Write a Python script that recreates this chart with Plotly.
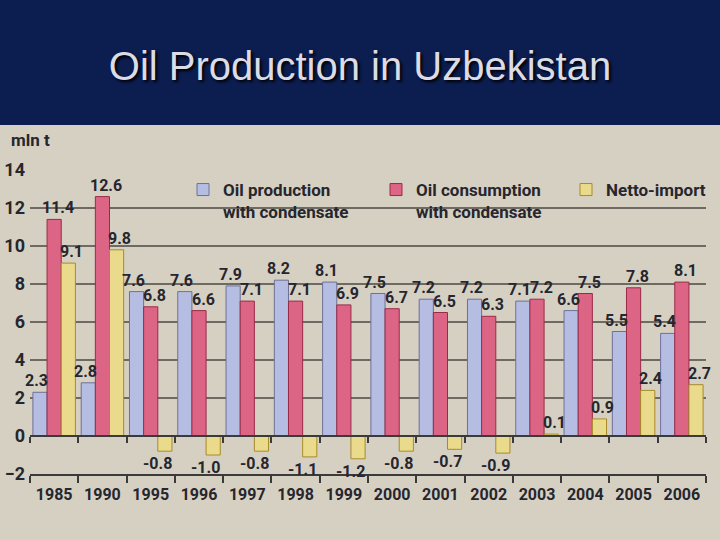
import plotly.graph_objects as go

years = ["1985", "1990", "1995", "1996", "1997", "1998", "1999",
         "2000", "2001", "2002", "2003", "2004", "2005", "2006"]
production = [2.3, 2.8, 7.6, 7.6, 7.9, 8.2, 8.1, 7.5, 7.2, 7.2, 7.1, 6.6, 5.5, 5.4]
consumption = [11.4, 12.6, 6.8, 6.6, 7.1, 7.1, 6.9, 6.7, 6.5, 6.3, 7.2, 7.5, 7.8, 8.1]
netto_import = [9.1, 9.8, -0.8, -1.0, -0.8, -1.1, -1.2, -0.8, -0.7, -0.9, 0.1, 0.9, 2.4, 2.7]

series_names = ["Oil production<br>with condensate",
                "Oil consumption<br>with condensate",
                "Netto-import"]
series_values = [production, consumption, netto_import]
fill_colors = ["#b6bde2", "#dc6585", "#eadb8c"]
line_colors = ["#6c7198", "#9a2a48", "#a88a2a"]
legend_ids = ["legend", "legend", "legend2"]

FONT = "Roboto, Liberation Sans, sans-serif"
TXT = "#26262e"
BG = "#d6d0c3"

# plot geometry (pixels)
L, R, T, B = 30, 14, 170, 66
W, H = 720, 540
plot_w = W - L - R
plot_h = H - T - B
bargap = 0.12
cat_w = plot_w / len(years)
bar_w = cat_w * (1 - bargap) / 3

fig = go.Figure()
for name, vals, fc, lc, lg in zip(series_names, series_values, fill_colors,
                                  line_colors, legend_ids):
    fig.add_trace(go.Bar(
        x=years, y=vals, name=name, legend=lg,
        marker=dict(color=fc, line=dict(color=lc, width=1)),
    ))

# helper trace for the zero-line axis
fig.add_trace(go.Scatter(x=[], y=[], xaxis="x2", showlegend=False, hoverinfo="skip"))

# value labels, positioned from the data values (category index on x)
label_shift = [-3, 4, 3]
annotations = []
for s, vals in enumerate(series_values):
    base = (s - 1) * bar_w
    for i, v in enumerate(vals):
        if v >= 0:
            annotations.append(dict(
                x=i, y=v, xref="x", yref="y", text=f"{v:.1f}", showarrow=False,
                xanchor="center", yanchor="bottom", xshift=base + label_shift[s], yshift=0,
                font=dict(family=FONT, size=16, color=TXT, weight="bold")))
        else:
            annotations.append(dict(
                x=i, y=v, xref="x", yref="y", text=f"{v:.1f}", showarrow=False,
                xanchor="right", yanchor="top", xshift=base + bar_w / 2 + 2, yshift=-1,
                font=dict(family=FONT, size=16, color=TXT, weight="bold")))

annotations.append(dict(text="mln t", xref="paper", yref="paper",
                        x=(9 - L) / plot_w, y=(H - B - 140) / plot_h, xanchor="left",
                        yanchor="middle", showarrow=False,
                        font=dict(family=FONT, size=17, color=TXT, weight="bold")))

legend_common = dict(orientation="h", yanchor="top",
                     bgcolor="rgba(0,0,0,0)", valign="top", traceorder="normal",
                     font=dict(family=FONT, size=17, color=TXT, weight="bold"))

ymin, ymax = -2, 14
fig.update_layout(
    width=W, height=H,
    margin=dict(l=L, r=R, t=T, b=B, autoexpand=False),
    paper_bgcolor=BG, plot_bgcolor=BG,
    barmode="group", bargap=bargap, bargroupgap=0,
    title=dict(text="Oil Production in Uzbekistan", x=0.5, xanchor="center",
               y=1 - 66 / H, yanchor="middle",
               font=dict(family="Liberation Sans, Arial, sans-serif", size=40,
                         color="#dcdce6", shadow="2px 2px 3px #000000")),
    showlegend=True,
    legend=dict(x=(183 - L) / plot_w, y=(H - B - 172) / plot_h, xanchor="left",
                entrywidth=148, entrywidthmode="pixels", **legend_common),
    legend2=dict(x=(566 - L) / plot_w, y=(H - B - 172) / plot_h, xanchor="left",
                 **legend_common),
    xaxis=dict(type="category", range=[-0.5, 13.5], tickson="boundaries",
               ticks="outside", ticklen=7, ticklabelstandoff=5,
               tickwidth=1.5, tickcolor="#3a3a3a", showline=True, linecolor="#3a3a3a",
               linewidth=2, showgrid=False, tickangle=0, automargin=False,
               tickfont=dict(family=FONT, size=16, color=TXT, weight="bold")),
    xaxis2=dict(overlaying="x", anchor="free", position=(0 - ymin) / (ymax - ymin),
                range=[-0.5, 13.5], tickmode="array",
                tickvals=[i - 0.5 for i in range(15)], ticks="outside", ticklen=6,
                tickwidth=1.5, tickcolor="#3a3a3a", showline=True, linecolor="#3a3a3a",
                linewidth=2, showticklabels=False, showgrid=False, zeroline=False),
    yaxis=dict(range=[ymin, ymax], dtick=2, showgrid=True, gridcolor="#6e6961",
               gridwidth=1.5, zeroline=False, ticks="", ticklabelstandoff=4,
               automargin=False,
               tickfont=dict(family=FONT, size=18, color=TXT, weight="bold")),
    shapes=[dict(type="rect", xref="paper", yref="paper",
                 x0=-0.1, x1=1.1, y0=(H - B - 125) / plot_h, y1=1.7,
                 fillcolor="#0c1d50", line=dict(width=0), layer="below")],
    annotations=annotations,
)

fig.write_html("out.html")
